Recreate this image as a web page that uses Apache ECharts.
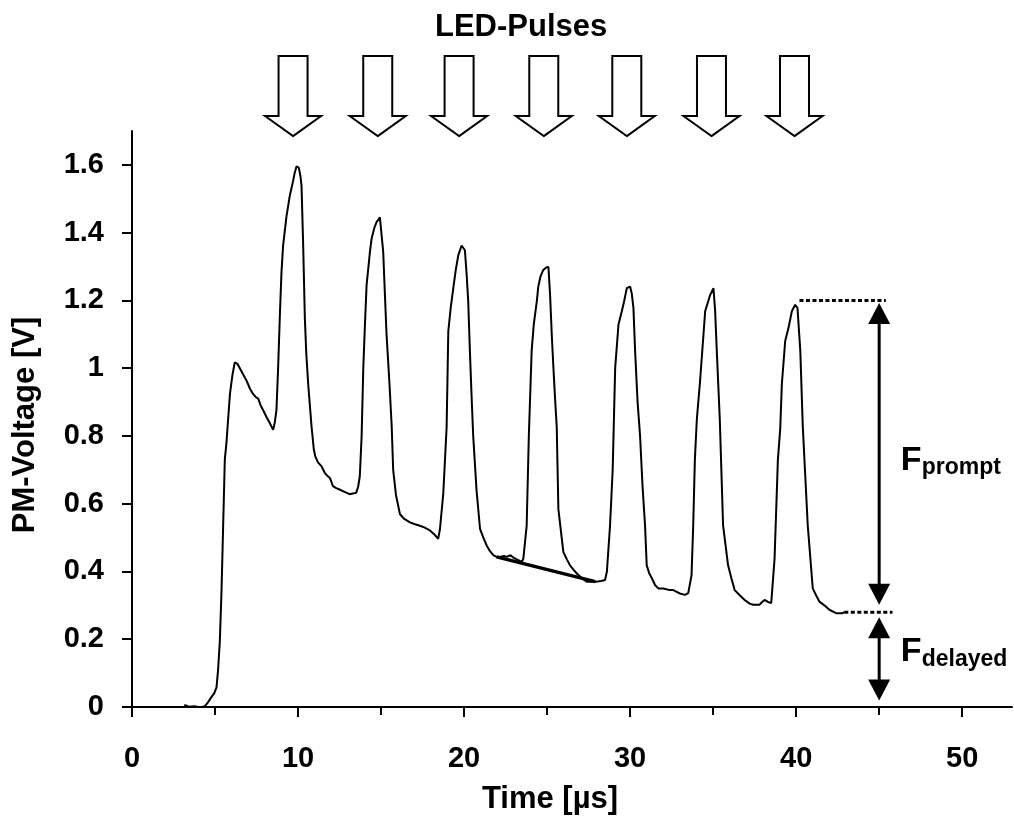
<!DOCTYPE html>
<html><head><meta charset="utf-8">
<script src="https://cdn.jsdelivr.net/npm/echarts@6/dist/echarts.min.js"></script>
<style>html,body{margin:0;padding:0;background:#fff}#c{width:1014px;height:820px}</style>
</head><body><div id="c"></div>
<script>
const FONT = '"Liberation Sans", Arial, Helvetica, sans-serif';

// Axis ticks / labels
const xTickLabels = [0, 10, 20, 30, 40, 50];
const xMinorTicks = [5, 15, 25, 35, 45];
const yTickLabels = [0, 0.2, 0.4, 0.6, 0.8, 1, 1.2, 1.4, 1.6];

// PM voltage trace [time µs, voltage V]
const signal = [
[3.15,0.006],[3.25,0.001],[3.45,0.001],[3.55,0.0],[3.75,0.002],[3.85,0.007],[3.95,0.001],[4.2,0.0],[4.38,0.002],[4.55,0.012],[4.78,0.029],[4.95,0.04],[5.09,0.058],[5.18,0.107],[5.29,0.194],[5.39,0.34],[5.49,0.535],[5.59,0.73],[5.69,0.78],[5.79,0.85],[5.9,0.924],[6.05,0.98],[6.19,1.017],[6.35,1.013],[6.6,0.99],[6.9,0.963],[7.1,0.94],[7.29,0.924],[7.45,0.915],[7.6,0.91],[7.75,0.89],[7.9,0.876],[8.1,0.856],[8.3,0.838],[8.5,0.818],[8.6,0.84],[8.7,0.876],[8.8,1.0],[8.9,1.148],[9.0,1.28],[9.1,1.362],[9.31,1.45],[9.5,1.508],[9.7,1.552],[9.8,1.577],[9.91,1.596],[10.05,1.591],[10.15,1.565],[10.21,1.538],[10.26,1.45],[10.31,1.362],[10.41,1.148],[10.5,1.04],[10.61,0.954],[10.81,0.83],[10.95,0.76],[11.05,0.738],[11.2,0.722],[11.42,0.71],[11.6,0.692],[11.75,0.683],[11.92,0.676],[12.1,0.652],[12.3,0.646],[12.5,0.642],[12.8,0.635],[13.1,0.628],[13.3,0.63],[13.5,0.632],[13.62,0.65],[13.72,0.681],[13.83,0.8],[13.93,1.0],[14.03,1.13],[14.13,1.246],[14.33,1.343],[14.43,1.382],[14.6,1.415],[14.73,1.431],[14.93,1.445],[15.03,1.445],[15.13,1.343],[15.23,1.22],[15.33,1.1],[15.5,0.96],[15.64,0.83],[15.73,0.70],[15.9,0.625],[16.14,0.569],[16.4,0.555],[16.74,0.545],[17.0,0.54],[17.34,0.535],[17.6,0.53],[17.94,0.521],[18.2,0.51],[18.44,0.496],[18.55,0.526],[18.75,0.632],[18.95,0.827],[19.05,1.109],[19.2,1.18],[19.35,1.236],[19.5,1.29],[19.65,1.333],[19.85,1.362],[20.05,1.348],[20.15,1.28],[20.25,1.197],[20.35,1.051],[20.45,0.92],[20.55,0.8],[20.75,0.64],[20.96,0.526],[21.16,0.5],[21.36,0.477],[21.56,0.46],[21.76,0.448],[21.96,0.443],[22.16,0.443],[22.4,0.446],[22.57,0.443],[22.8,0.448],[23.0,0.44],[23.2,0.435],[23.47,0.428],[23.57,0.438],[23.77,0.535],[23.9,0.8],[24.07,1.051],[24.2,1.13],[24.38,1.197],[24.47,1.241],[24.6,1.27],[24.77,1.29],[24.95,1.297],[25.08,1.299],[25.18,1.216],[25.28,1.1],[25.38,1.002],[25.48,0.91],[25.58,0.827],[25.68,0.584],[25.98,0.457],[26.2,0.435],[26.38,0.418],[26.6,0.405],[26.79,0.394],[27.1,0.38],[27.39,0.37],[27.7,0.37],[27.99,0.37],[28.25,0.372],[28.49,0.375],[28.6,0.399],[28.79,0.535],[28.95,0.7],[29.1,1.0],[29.3,1.129],[29.5,1.168],[29.65,1.2],[29.8,1.236],[30.0,1.241],[30.1,1.22],[30.2,1.178],[30.3,1.051],[30.45,0.9],[30.6,0.8],[30.75,0.65],[30.9,0.535],[31.0,0.418],[31.15,0.395],[31.31,0.38],[31.5,0.36],[31.7,0.35],[32.0,0.35],[32.4,0.345],[32.6,0.345],[33.0,0.335],[33.3,0.331],[33.5,0.336],[33.7,0.389],[33.8,0.535],[33.9,0.73],[34.02,0.85],[34.2,0.954],[34.42,1.1],[34.52,1.168],[34.82,1.216],[35.02,1.236],[35.12,1.17],[35.22,1.051],[35.4,0.85],[35.6,0.535],[35.9,0.418],[36.1,0.38],[36.3,0.345],[36.6,0.33],[36.9,0.316],[37.2,0.305],[37.4,0.302],[37.8,0.302],[37.95,0.31],[38.1,0.316],[38.3,0.31],[38.5,0.307],[38.7,0.438],[38.9,0.73],[39.04,0.82],[39.14,0.954],[39.34,1.08],[39.54,1.119],[39.74,1.168],[39.94,1.187],[40.08,1.178],[40.25,1.051],[40.4,0.827],[40.7,0.535],[41.0,0.35],[41.2,0.33],[41.4,0.311],[41.7,0.3],[42.0,0.287],[42.4,0.277],[42.8,0.277],[42.9,0.28]
];

// LED pulse arrows (tip time, tip voltage level)
const pulseTimes = [9.7, 14.8, 19.7, 24.8, 29.8, 34.9, 39.9];
const pulseTipVoltage = 1.685;

// Annotations
const slopeLine = [[21.96, 0.443], [27.9, 0.37]];
const promptLevel = [[40.2, 1.2], [45.4, 1.2]];
const delayedLevel = [[42.9, 0.28], [45.8, 0.28]];
const doubleArrows = [[45, 1.192, 0.302], [45, 0.265, 0.019]];
const fLabels = [[46.3, 0.696, 'prompt'], [46.3, 0.131, 'delayed']];

const chart = echarts.init(document.getElementById('c'), null, {renderer: 'canvas'});
const tickFont = {fontSize: 29, fontWeight: 'bold', color: '#000', fontFamily: FONT};

chart.setOption({
  animation: false,
  backgroundColor: '#fff',
  title: {
    text: 'LED-Pulses', left: 435, top: 11.6, padding: 0,
    textStyle: {fontSize: 31, fontWeight: 'bold', color: '#000', fontFamily: FONT}
  },
  grid: {left: 132, right: 2, top: 131, bottom: 107, containLabel: false},
  xAxis: [{
    type: 'value', min: 0, max: 53, interval: 10, position: 'bottom',
    name: 'Time [µs]', nameLocation: 'middle', nameGap: 77,
    nameTextStyle: {fontSize: 31, fontWeight: 'bold', color: '#000', fontFamily: FONT, padding: [0, 44, 0, 0]},
    axisLine: {show: true, lineStyle: {color: '#000', width: 2}},
    axisTick: {show: true, length: 10, inside: false, customValues: xTickLabels, lineStyle: {color: '#000', width: 2}},
    axisLabel: Object.assign({margin: 37, customValues: xTickLabels}, tickFont),
    splitLine: {show: false}
  }, {
    type: 'value', min: 0, max: 53, interval: 10, position: 'bottom',
    axisLine: {show: false},
    axisTick: {show: true, length: 8, inside: false, customValues: xMinorTicks, lineStyle: {color: '#000', width: 2}},
    axisLabel: {show: false},
    splitLine: {show: false}
  }],
  yAxis: {
    type: 'value', min: 0, max: 1.7, interval: 0.2,
    name: 'PM-Voltage [V]', nameLocation: 'middle', nameGap: 91,
    nameTextStyle: {fontSize: 31, fontWeight: 'bold', color: '#000', fontFamily: FONT, padding: [0, 12, 0, 0]},
    axisLine: {show: true, lineStyle: {color: '#000', width: 2}},
    axisTick: {show: true, length: 10, inside: false, customValues: yTickLabels, lineStyle: {color: '#000', width: 2}},
    axisLabel: Object.assign({margin: 28, customValues: yTickLabels}, tickFont),
    splitLine: {show: false}
  },
  series: [
    {
      type: 'line', data: signal, showSymbol: false, symbol: 'none', smooth: false,
      lineStyle: {color: '#000', width: 2}, z: 3
    },
    {
      type: 'line', data: slopeLine, showSymbol: false, symbol: 'none',
      lineStyle: {color: '#000', width: 3.5}, z: 4
    },
    {
      type: 'line', data: promptLevel, showSymbol: false, symbol: 'none', clip: false,
      lineStyle: {color: '#000', width: 3, type: [4, 2.5], cap: 'butt'}, z: 4
    },
    {
      type: 'line', data: delayedLevel, showSymbol: false, symbol: 'none', clip: false,
      lineStyle: {color: '#000', width: 3, type: [4, 2.5], cap: 'butt'}, z: 4
    },
    {
      type: 'custom', clip: false, z: 5,
      data: pulseTimes.map(t => [t, pulseTipVoltage]),
      encode: {x: 0, y: 1},
      renderItem: function (params, api) {
        const p = api.coord([api.value(0), api.value(1)]);
        const x = p[0], y = p[1];
        return {
          type: 'polygon',
          shape: {points: [[x, y], [x + 28, y - 20], [x + 14.5, y - 20], [x + 14.5, y - 80],
                           [x - 14.5, y - 80], [x - 14.5, y - 20], [x - 28, y - 20]]},
          style: {fill: '#fff', stroke: '#000', lineWidth: 2, lineJoin: 'miter'}
        };
      }
    },
    {
      type: 'custom', clip: false, z: 6,
      data: doubleArrows,
      encode: {x: 0, y: [1, 2]},
      renderItem: function (params, api) {
        const xv = api.value(0);
        const top = api.coord([xv, api.value(1)]);
        const bot = api.coord([xv, api.value(2)]);
        const h = 21, w = 11;
        return {
          type: 'group',
          children: [
            {type: 'line', shape: {x1: top[0], y1: top[1] + h - 1, x2: bot[0], y2: bot[1] - h + 1},
             style: {stroke: '#000', lineWidth: 3}},
            {type: 'polygon', shape: {points: [[top[0], top[1]], [top[0] + w, top[1] + h], [top[0] - w, top[1] + h]]},
             style: {fill: '#000'}},
            {type: 'polygon', shape: {points: [[bot[0], bot[1]], [bot[0] + w, bot[1] - h], [bot[0] - w, bot[1] - h]]},
             style: {fill: '#000'}}
          ]
        };
      }
    },
    {
      type: 'custom', clip: false, z: 6,
      data: fLabels.map(d => [d[0], d[1]]),
      encode: {x: 0, y: 1},
      renderItem: function (params, api) {
        const p = api.coord([api.value(0), api.value(1)]);
        const sub = fLabels[params.dataIndex][2];
        return {
          type: 'group',
          children: [
            {type: 'text', style: {text: 'F', x: p[0], y: p[1] - 0.31 * 34, align: 'left', verticalAlign: 'middle',
              fontSize: 34, fontWeight: 'bold', fontFamily: FONT, fill: '#000'}},
            {type: 'text', style: {text: sub, x: p[0] + 21, y: p[1] + 4 - 0.31 * 23, align: 'left', verticalAlign: 'middle',
              fontSize: 23, fontWeight: 'bold', fontFamily: FONT, fill: '#000'}}
          ]
        };
      }
    }
  ]
});
</script>
</body></html>
